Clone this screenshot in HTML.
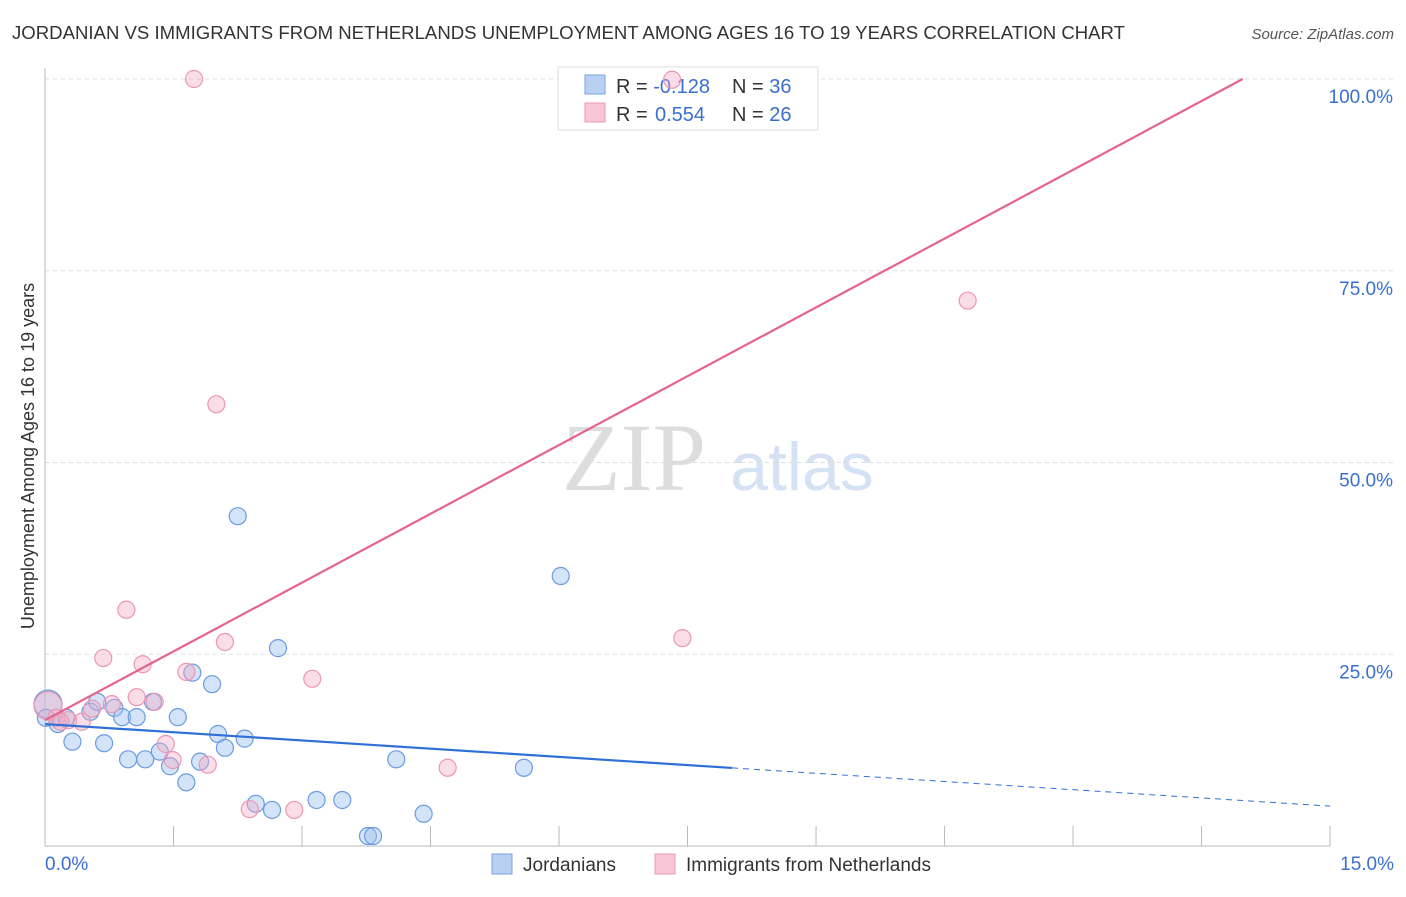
<!DOCTYPE html>
<html><head><meta charset="utf-8"><style>
body{margin:0;background:#fff;font-family:"Liberation Sans",sans-serif}
</style></head><body>
<svg id="c" width="1406" height="892" xmlns="http://www.w3.org/2000/svg">
<text x="12" y="39" font-size="18" fill="#333" textLength="1113" lengthAdjust="spacingAndGlyphs">JORDANIAN VS IMMIGRANTS FROM NETHERLANDS UNEMPLOYMENT AMONG AGES 16 TO 19 YEARS CORRELATION CHART</text>
<text x="1394" y="39" font-size="15" fill="#555" font-style="italic" text-anchor="end">Source: ZipAtlas.com</text>
<text x="634" y="490" font-size="96" fill="#ddd" font-family="Liberation Serif,serif" text-anchor="middle">ZIP</text>
<text x="802" y="490" font-size="68" fill="#d4e2f4" text-anchor="middle">atlas</text>
<text transform="translate(34,456) rotate(-90)" font-size="18" fill="#333" text-anchor="middle">Unemployment Among Ages 16 to 19 years</text>
<g id="grid"></g>
<g>
<rect x="558" y="67" width="260" height="63" fill="#fff" stroke="#ddd"/>
<rect x="585" y="75" width="20" height="19" fill="#b8d0f2" stroke="#7aa3dd"/>
<rect x="585" y="103" width="20" height="19" fill="#f8c6d6" stroke="#e99ab5"/>
<text x="616" y="93" font-size="20" fill="#333">R = <tspan fill="#3a6fd0">-0.128</tspan><tspan x="732">N = </tspan><tspan fill="#3a6fd0">36</tspan></text>
<text x="616" y="121" font-size="20" fill="#333">R = <tspan fill="#3a6fd0" x="655">0.554</tspan><tspan x="732">N = </tspan><tspan fill="#3a6fd0">26</tspan></text>
</g>
<g id="pts"></g><g id="lines"></g>
<g>
<rect x="492" y="854" width="20" height="20" fill="#b8d0f2" stroke="#7aa3dd"/>
<text x="523" y="871" font-size="19" fill="#333">Jordanians</text>
<rect x="655" y="854" width="20" height="20" fill="#f8c6d6" stroke="#e99ab5"/>
<text x="686" y="871" font-size="19" fill="#333">Immigrants from Netherlands</text>
</g>
</svg>
<script>
const blueX=[0.035,0.15,0.32,0.53,0.61,0.69,0.81,0.90,0.97,1.07,1.17,1.26,1.34,1.46,1.55,1.65,1.72,1.81,1.95,2.02,2.10,2.25,2.33,2.46,2.65,2.72,3.17,3.47,3.77,3.83,4.10,4.42,5.59,6.02,0.25,0.01];
const blueY=[18.5,15.9,13.6,17.5,18.8,13.4,18.0,16.8,11.3,16.8,11.3,18.8,12.3,10.4,16.8,8.3,22.6,11.0,21.1,14.6,12.8,43.0,14.0,5.5,4.7,25.8,6.0,6.0,1.3,1.3,11.3,4.2,10.2,35.2,16.7,16.7];
const pinkX=[0.035,0.13,0.27,0.43,0.55,0.68,0.78,0.95,1.07,1.14,1.28,1.41,1.49,1.65,1.74,1.90,2.00,2.10,2.39,2.91,3.12,4.70,7.44,10.77,7.32,0.18];
const pinkY=[18.3,16.7,16.4,16.2,17.9,24.5,18.5,30.8,19.4,23.7,18.8,13.3,11.2,22.7,100,10.6,57.6,26.6,4.8,4.7,21.8,10.2,27.1,71.1,99.9,16.2];
const yTicks=[25,50,75,100];
const xTickLabels=["0.0%","15.0%"];
const blueTrend=[15.9,5.2], blueSolidEnd=8.02;
const pinkTrend=[16.4,5.98];
const X=v=>45+v*85.67, Y=v=>846-v*7.67;
const NS="http://www.w3.org/2000/svg";
function mk(t,a,p){const e=document.createElementNS(NS,t);for(const k in a)e.setAttribute(k,a[k]);p.appendChild(e);return e;}
const g=document.getElementById('grid');
yTicks.forEach(t=>{
 const l=mk('line',{x1:45,x2:1395,y1:Y(t),y2:Y(t),stroke:'#ddd','stroke-dasharray':'4,4'},g);
 
 
 const tx=mk('text',{x:1393,y:Y(t)+24,'font-size':19,fill:'#3a6fd0','text-anchor':'end'},g);
 tx.textContent=t.toFixed(1)+'%';
 
 
});
const ax=mk('line',{x1:45,x2:45,y1:68,y2:846,stroke:'#bbb'},g);


const bx=mk('line',{x1:45,x2:1330,y1:846,y2:846,stroke:'#bbb'},g);


for(let i=1;i<=10;i++){const t=mk('line',{x1:X(i*1.5),x2:X(i*1.5),y1:826,y2:846,stroke:'#bbb'},g);
 
 }
[[0,'start',45],[15,'end',1394]].forEach((d,i)=>{const t=mk('text',{x:d[2],y:870,'font-size':19,fill:'#3a6fd0','text-anchor':d[1]},g);t.textContent=xTickLabels[i];
 
 });
const p=document.getElementById('pts');
function pts(xs,ys,fill,stroke,name){xs.forEach((x,i)=>{const big=i===0;
 const c=mk('circle',{cx:X(x),cy:Y(ys[i]),r:big?14:8.5,fill:fill,stroke:stroke,'stroke-width':1.2},p);
 
 });}
pts(blueX,blueY,'rgba(160,196,240,0.45)','#6b9be0','jordanian-point');
pts(pinkX,pinkY,'rgba(245,170,195,0.4)','#eb97b4','netherlands-point');
const L=document.getElementById('lines');
const b1=mk('line',{x1:X(0),y1:Y(blueTrend[0]),x2:X(blueSolidEnd),y2:Y(blueTrend[0]+(blueTrend[1]-blueTrend[0])*blueSolidEnd/15),stroke:'#2f6fd6','stroke-width':2.2},L);


const b2=mk('line',{x1:X(blueSolidEnd),y1:Y(blueTrend[0]+(blueTrend[1]-blueTrend[0])*blueSolidEnd/15),x2:X(15),y2:Y(blueTrend[1]),stroke:'#2f6fd6','stroke-width':1,'stroke-dasharray':'6,5'},L);


const xe=(100-pinkTrend[0])/pinkTrend[1];
const pl=mk('line',{x1:X(0),y1:Y(pinkTrend[0]),x2:X(xe),y2:Y(100),stroke:'#e4638f','stroke-width':2.2},L);


</script>
</body></html>
